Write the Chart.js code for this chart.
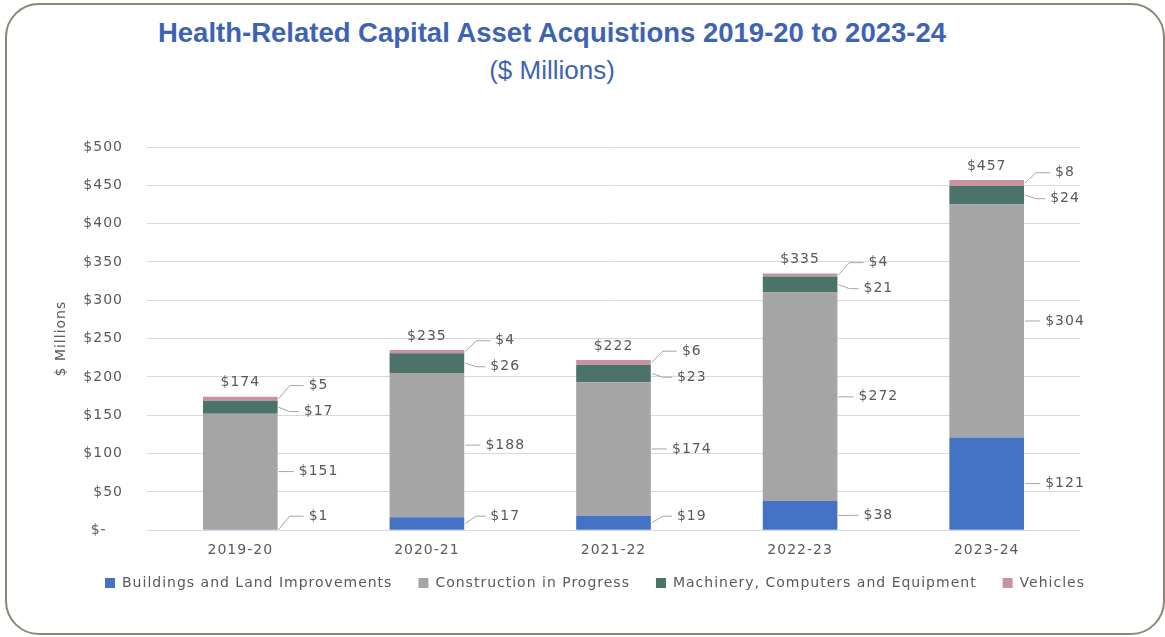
<!DOCTYPE html>
<html>
<head>
<meta charset="utf-8">
<script src="https://cdn.jsdelivr.net/npm/chart.js@4"></script>
<style>
    body { margin: 0; background: #fff; }
    #wrap { position: relative; width: 1165px; height: 637px; overflow: hidden; }
    #frame {
        position: absolute; left: 5px; top: 3px; width: 1156px; height: 628px;
        border: 2px solid #8f8577; border-radius: 34px;
    }
    #title {
        position: absolute; left: 0; top: 17px; width: 1104px; text-align: center;
        font-family: "Liberation Sans", Arial, sans-serif; font-weight: bold;
        font-size: 27.5px; color: #3f63b3;
    }
    #subtitle {
        position: absolute; left: 0; top: 55px; width: 1104px; text-align: center;
        font-family: "Liberation Sans", Arial, sans-serif;
        font-size: 26px; color: #3f63b3;
    }
    #chart { position: absolute; left: 0; top: 100px; }
</style>
</head>
<body>
<div id="wrap">
    <div id="frame"></div>
    <div id="title">Health-Related Capital Asset Acquistions 2019-20 to 2023-24</div>
    <div id="subtitle">($ Millions)</div>
    <canvas id="chart" width="1165" height="523"></canvas>
</div>
<script>
// Chart data
const years = ['2019-20', '2020-21', '2021-22', '2022-23', '2023-24'];
const buildings = [1, 17, 19, 38, 121];
const construction = [151, 188, 174, 272, 304];
const machinery = [17, 26, 23, 21, 24];
const vehicles = [5, 4, 6, 4, 8];
const yTicks = [0, 50, 100, 150, 200, 250, 300, 350, 400, 450, 500];

const textColor = '#595959';
const font = 'DejaVu Sans';

// Wider letter spacing like the original export (reset whenever the canvas is resized)
const spacing = {
    id: 'spacing',
    beforeUpdate(chart) { chart.ctx.letterSpacing = '1px'; },
    beforeDraw(chart) { chart.ctx.letterSpacing = '1px'; },
    afterLayout(chart) {
        // legend sits right of the plot centre and closer to the axis in the original
        chart.legend.left += 45;
        chart.legend.right += 45;
        chart.legend.top -= 13;
        chart.legend.bottom -= 13;
    }
};

// Value labels to the right of each segment, with leader lines, plus totals on top
const segmentLabels = {
    id: 'segmentLabels',
    afterDatasetsDraw(chart) {
        const ctx = chart.ctx;
        const area = chart.chartArea;
        const sets = chart.data.datasets;
        ctx.save();
        ctx.font = '14px "' + font + '"';
        ctx.fillStyle = textColor;
        ctx.textBaseline = 'middle';
        years.forEach(function(year, i) {
            const items = sets.map(function(ds, d) {
                const bar = chart.getDatasetMeta(d).data[i];
                const mid = (bar.y + bar.base) / 2;
                return { text: '$' + ds.data[i], segY: mid, y: mid, right: bar.x + bar.width / 2 };
            });
            // keep the bottom label off the axis
            items[0].y = Math.min(items[0].y, area.bottom - 14);
            // push overlapping labels apart
            for (let pass = 0; pass < 3; pass++) {
                for (let k = 0; k < items.length - 1; k++) {
                    const gap = items[k].y - items[k + 1].y;
                    if (gap < 26) {
                        const d = 26 - gap;
                        items[k].y += d * 0.25;
                        items[k + 1].y -= d * 0.75;
                    }
                }
            }
            items.forEach(function(it) {
                const cx = it.right + 41;
                const w = ctx.measureText(it.text).width;
                ctx.strokeStyle = '#a6a6a6';
                ctx.lineWidth = 1;
                ctx.beginPath();
                ctx.moveTo(it.right + 1, it.segY);
                ctx.lineTo(it.right + 12, it.y);
                ctx.lineTo(cx - w / 2 - 5, it.y);
                ctx.stroke();
                ctx.textAlign = 'center';
                ctx.fillText(it.text, cx, it.y);
            });
            // total above the bar
            const topBar = chart.getDatasetMeta(sets.length - 1).data[i];
            const total = sets.reduce(function(s, ds) { return s + ds.data[i]; }, 0);
            ctx.textAlign = 'center';
            ctx.fillText('$' + total, topBar.x, topBar.y - 14);
        });
        ctx.restore();
    }
};

new Chart(document.getElementById('chart'), {
    type: 'bar',
    data: {
        labels: years,
        datasets: [
            { label: 'Buildings and Land Improvements', data: buildings, backgroundColor: '#4472c4' },
            { label: 'Construction in Progress', data: construction, backgroundColor: '#a5a5a5' },
            { label: 'Machinery, Computers and Equipment', data: machinery, backgroundColor: '#4c7369' },
            { label: 'Vehicles', data: vehicles, backgroundColor: '#c8939e' }
        ]
    },
    options: {
        responsive: false,
        animation: false,
        categoryPercentage: 0.8,
        barPercentage: 0.5,
        layout: {
            padding: { top: 47, right: 85, left: 20, bottom: 10 }
        },
        scales: {
            x: {
                stacked: true,
                grid: { display: false },
                border: { display: false },
                ticks: {
                    color: textColor,
                    padding: 4,
                    font: { family: font, size: 14 }
                }
            },
            y: {
                stacked: true,
                min: 0,
                max: 500,
                afterBuildTicks: function(scale) {
                    scale.ticks = yTicks.map(function(v) { return { value: v }; });
                },
                afterFit: function(scale) {
                    scale.width = 127;
                },
                grid: { color: '#d9d9d9', drawTicks: false },
                border: { display: false },
                title: {
                    display: true,
                    text: '$ Millions',
                    color: textColor,
                    font: { family: font, size: 14 },
                    padding: { top: 33, bottom: 0 }
                },
                ticks: {
                    color: textColor,
                    padding: 24,
                    font: { family: font, size: 14 },
                    callback: function(value) {
                        return value === 0 ? '$-   ' : '$' + value;
                    }
                }
            }
        },
        plugins: {
            legend: {
                position: 'bottom',
                labels: {
                    color: textColor,
                    boxWidth: 10,
                    boxHeight: 10,
                    padding: 26,
                    font: { family: font, size: 14 }
                }
            },
            tooltip: { enabled: false }
        }
    },
    plugins: [spacing, segmentLabels]
});
</script>
</body>
</html>
